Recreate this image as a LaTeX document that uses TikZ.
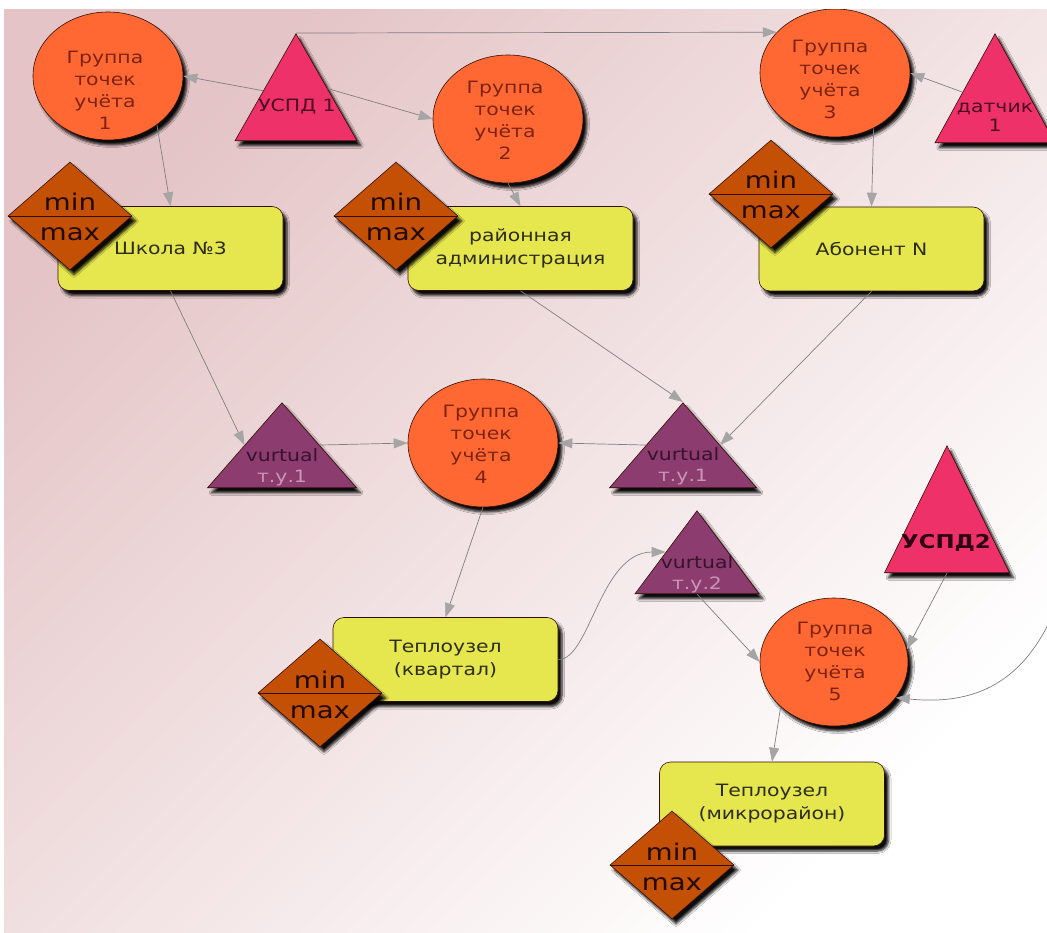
\documentclass[tikz,border=0pt]{standalone}
\usepackage{fontspec}
\setmainfont{DejaVu Sans}[FakeStretch=1.2]
\usetikzlibrary{shapes.geometric,arrows.meta,shadows.blur}
\definecolor{bgpink}{RGB}{228,196,198}
\definecolor{bgmid}{RGB}{244,231,232}
\definecolor{circfill}{RGB}{255,104,50}
\definecolor{circtext}{RGB}{125,35,20}
\definecolor{pinkfill}{RGB}{238,50,105}
\definecolor{pinktext}{RGB}{75,10,35}
\definecolor{virtfill}{RGB}{140,60,110}
\definecolor{virttext}{RGB}{55,18,48}
\definecolor{virtlight}{RGB}{200,150,185}
\definecolor{boxfill}{RGB}{230,230,78}
\definecolor{boxtext}{RGB}{45,45,25}
\definecolor{mmfill}{RGB}{195,80,5}
\definecolor{mmtext}{RGB}{35,10,0}
\definecolor{edgegray}{RGB}{128,128,128}
\definecolor{tipgray}{RGB}{165,165,165}
\definecolor{outl}{RGB}{50,15,5}
\begin{document}
\begin{tikzpicture}[x=1pt,y=-1pt,
  shad/.style={blur shadow={shadow xshift=4pt,shadow yshift=-5pt,shadow blur radius=2.5pt,shadow blur steps=5,shadow opacity=95}},
  grp/.style={ellipse,draw=outl,line width=0.6pt,fill=circfill,minimum width=150pt,minimum height=128pt,inner sep=0pt,shad},
  grptext/.style={text=circtext,align=center,font=\fontsize{17}{22}\selectfont,inner sep=0pt},
  tri/.style={isosceles triangle,isosceles triangle stretches,shape border rotate=90,draw=outl,line width=0.6pt,inner sep=0pt,anchor=apex,shad},
  lamp/.style={tri,fill=pinkfill},
  virt/.style={tri,fill=virtfill},
  lamptext/.style={text=pinktext,align=center,font=\fontsize{17}{19}\selectfont,inner sep=0pt},
  virttext/.style={text=virttext,align=center,font=\fontsize{17}{21}\selectfont,inner sep=0pt},
  obj/.style={rectangle,rounded corners=11pt,draw=outl,line width=0.6pt,fill=boxfill,minimum width=225pt,minimum height=84pt,inner sep=0pt,shad,text=boxtext,align=center,font=\fontsize{17}{23}\selectfont},
  mm/.style={diamond,draw=outl,line width=0.6pt,fill=mmfill,minimum width=124pt,minimum height=108pt,inner sep=0pt,shad},
  mmtxt/.style={anchor=base,text=mmtext,inner sep=0pt,font=\fontsize{23}{23}\selectfont},
  arr/.style={draw=edgegray,line width=0.7pt,-{Triangle[length=14pt,width=10pt,color=tipgray]}},
]
\useasboundingbox (0,0) rectangle (1047,933);
\fill[white] (0,0) rectangle (1047,933);
\shade[top color=bgpink,middle color=bgmid,bottom color=white,shading angle=45] (4,10) rectangle (1047,933);
\begin{scope}
\clip (4,10) rectangle (1047,933);
% circles
\node[grp] (c1) at (108,76) {};
\node[grp] (c2) at (508,119) {};
\node[grp] (c3) at (835,73) {};
\node[grp] (c4) at (483,443) {};
\node[grp,minimum width=148pt] (c5) at (834,662) {};
\node[grptext] (c1t) at (105,90) {Группа\\точек\\учёта\\1};
\node[grptext] (c2t) at (505,120) {Группа\\точек\\учёта\\2};
\node[grptext] (c3t) at (830,79) {Группа\\точек\\учёта\\3};
\node[grptext] (c4t) at (481,444) {Группа\\точек\\учёта\\4};
\node[grptext] (c5t) at (835,661) {Группа\\точек\\учёта\\5};
% triangles (placed by apex)
\node[lamp,minimum width=122pt,minimum height=107pt] (t1) at (296,33) {};
\node[lamp,minimum width=120pt,minimum height=109pt] (t2) at (995,33) {};
\node[lamp,minimum width=125pt,minimum height=127pt] (t3) at (947,445) {};
\node[virt,minimum width=149pt,minimum height=85pt] (tvL) at (282,402) {};
\node[virt,minimum width=147pt,minimum height=85pt] (tvR) at (683,402) {};
\node[virt,minimum width=124pt,minimum height=83pt] (tv2) at (697,510) {};
\node[lamptext] (t1t) at (297,107) {УСПД 1};
\node[lamptext] (t2t) at (995,117) {датчик\\1};
\node[lamptext,font=\bfseries\fontsize{19}{19}\selectfont,text={rgb,255:red,45;green,0;blue,20}] (t3t) at (946,543) {УСПД2};
\node[virttext] (tvLt) at (282,467) {vurtual\\{\color{virtlight}т.у.1}};
\node[virttext] (tvRt) at (683,466) {vurtual\\{\color{virtlight}т.у.1}};
\node[virttext] (tv2t) at (697,574) {vurtual\\{\color{virtlight}т.у.2}};
% boxes
\node[obj] (b1) at (170.5,248.5) {Школа №3};
\node[obj] (b2) at (520.5,248.5) {районная\\администрация};
\node[obj] (b3) at (871.5,249) {Абонент N};
\node[obj] (b4) at (445.5,659.5) {Теплоузел\\(квартал)};
\node[obj] (b5) at (772,804) {Теплоузел\\(микрорайон)};
% min/max diamonds
\foreach \n/\x/\y in {d1/70/216, d2/396/216, d3/771/194, d4/320/693, d5/672/865}{
  \node[mm] (\n) at (\x,\y) {};
  \draw[outl,line width=0.8pt] (\n.west) -- (\n.east);
  \node[mmtxt,yshift=5pt] (\n min) at (\n.center) {min};
  \node[mmtxt,yshift=-25pt] (\n max) at (\n.center) {max};
}
% connectors
\coordinate (offR) at (1062,590);
\draw[arr] (t1.156) -- (c1.east);
\draw[arr] (t1.28) -- (c2.west);
\draw[arr] (t1.apex) -- (c3.145);
\draw[arr] (t2.155) -- (c3.east);
\draw[arr] (c1.-45) -- (b1.north);
\draw[arr] (c2.south) -- (b2.north);
\draw[arr] (c3.-55) -- (b3.north);
\draw[arr] (b1.south) -- (tvL.left side);
\draw[arr] (b2.south) -- (tvR.apex);
\draw[arr] (b3.south) -- (tvR.right side);
\draw[arr] (tvL.right side) -- (c4.west);
\draw[arr] (tvR.left side) -- (c4.east);
\draw[arr] (c4.south) -- (b4.north);
\draw[arr] (b4.east) .. controls (590,660) and (600,552) .. (tv2.left side);
\draw[arr] (tv2.south) -- (c5.west);
\draw[arr] (t3.south) -- (c5.10);
\draw[arr] (offR) .. controls (1030,688) and (970,705) .. (c5.-30);
\draw[arr] (c5.-140) -- (b5.north);
\end{scope}
\end{tikzpicture}
\end{document}
